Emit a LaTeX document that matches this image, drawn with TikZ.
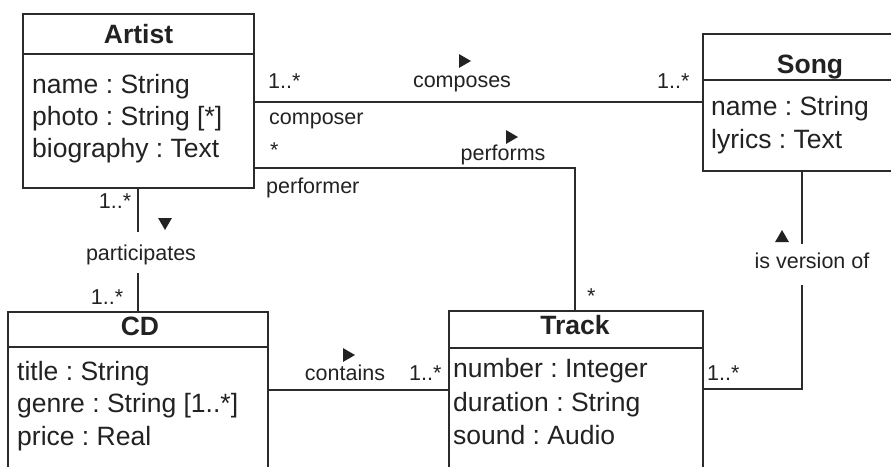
\documentclass[tikz,border=0pt]{standalone}
\usepackage{fontspec}
\setmainfont{Liberation Sans}
\usetikzlibrary{shapes.geometric,calc}
\definecolor{ink}{HTML}{222222}
\definecolor{wire}{HTML}{2B2B2B}
\frenchspacing
\tikzset{
  umlbox/.style={draw=wire, line width=2pt, fill=white, anchor=north west, inner sep=0pt, outer sep=0pt},
  attr/.style={font=\fontsize{26.5}{32}\selectfont, text=ink, anchor=base west, inner sep=0pt},
  classname/.style={font=\fontsize{26.5}{32}\selectfont\bfseries, text=ink, anchor=base, inner sep=0pt},
  lbl/.style={font=\fontsize{21.5}{26}\selectfont, text=ink, anchor=base, inner sep=0pt},
  lblw/.style={lbl, anchor=base west},
  assoc/.style={draw=wire, line width=2pt},
  navtri/.style={regular polygon, regular polygon sides=3, fill=ink, inner sep=0pt, outer sep=0pt, minimum size=16pt},
}
\begin{document}
\begin{tikzpicture}[x=1pt, y=-1pt]
  \useasboundingbox (0,0) rectangle (891,466);
  \clip (0,0) rectangle (891,466);

  % class boxes
  \node[umlbox, minimum width=231pt, minimum height=174pt] (artist) at (23,14) {};
  \node[umlbox, minimum width=214pt, minimum height=137pt] (song) at (703,34) {};
  \node[umlbox, minimum width=260pt, minimum height=200pt] (cd) at (8,312) {};
  \node[umlbox, minimum width=254pt, minimum height=200pt] (track) at (449,311) {};

  % header separators
  \draw[assoc] ([yshift=-40pt]artist.north west) -- ([yshift=-40pt]artist.north east);
  \draw[assoc] ([yshift=-46pt]song.north west) -- ([yshift=-46pt]song.north east);
  \draw[assoc] ([yshift=-35pt]cd.north west) -- ([yshift=-35pt]cd.north east);
  \draw[assoc] ([yshift=-37pt]track.north west) -- ([yshift=-37pt]track.north east);

  % Artist
  \node[classname] (artistT) at (138.5,43) {Artist};
  \node[attr] (a1) at (32,93) {name : String};
  \node[attr] (a2) at (32,125) {photo : String [*]};
  \node[attr] (a3) at (32,157) {biography : Text};

  % Song
  \node[classname] (songT) at (810,73) {Song};
  \node[attr] (s1) at (711,115) {name : String};
  \node[attr] (s2) at (711,148) {lyrics : Text};

  % CD
  \node[classname] (cdT) at (140,335) {CD};
  \node[attr] (c1) at (17,380) {title : String};
  \node[attr] (c2) at (17,412) {genre : String [1..*]};
  \node[attr] (c3) at (17,445) {price : Real};

  % Track
  \node[classname] (trackT) at (575,334) {Track};
  \node[attr] (t1) at (453,377) {number : Integer};
  \node[attr] (t2) at (453,411) {duration : String};
  \node[attr] (t3) at (453,444) {sound : Audio};

  % composes
  \coordinate (cmp) at (0,102);
  \draw[assoc] (artist.east |- cmp) -- (song.west |- cmp);
  \node[lblw] (cmpA) at (268,88) {1..*};
  \node[lbl] (cmpL) at (462,87) {composes};
  \node[navtri, shape border rotate=-90] (cmpD) at (463,61) {};
  \node[lblw] (cmpB) at (657,88) {1..*};
  \node[lblw] (cmpR) at (269,124) {composer};

  % performs
  \coordinate (prf) at (575,168);
  \draw[assoc] (artist.east |- prf) -- (prf) -- (prf |- track.north);
  \node[lblw] (prfA) at (270,157) {*};
  \node[lbl] (prfL) at (503,160) {performs};
  \node[navtri, shape border rotate=-90] (prfD) at (510,137) {};
  \node[lblw] (prfR) at (266,193) {performer};
  \node[lblw] (prfB) at (587,303) {*};

  % participates
  \coordinate (par) at (138,0);
  \draw[assoc] (artist.south -| par) -- ++(0,44);
  \draw[assoc] (cd.north -| par) -- ++(0,-39);
  \node[lbl] (parA) at (115,208) {1..*};
  \node[navtri, shape border rotate=180] (parD) at (165,222) {};
  \node[lbl] (parL) at (141,260) {participates};
  \node[lbl] (parB) at (107,304) {1..*};

  % contains
  \coordinate (cnt) at (0,390);
  \draw[assoc] (cd.east |- cnt) -- (track.west |- cnt);
  \node[lbl] (cntL) at (345,380) {contains};
  \node[navtri, shape border rotate=-90] (cntD) at (347,355) {};
  \node[lblw] (cntB) at (409,380) {1..*};

  % is version of
  \coordinate (ver) at (802,389);
  \draw[assoc] (song.south -| ver) -- ++(0,73);
  \draw[assoc] (track.east |- ver) -- (ver) -- ++(0,-104);
  \node[lblw] (verB) at (707,380) {1..*};
  \node[navtri] (verD) at (782,238) {};
  \node[lbl] (verL) at (812,268) {is version of};
\end{tikzpicture}
\end{document}
